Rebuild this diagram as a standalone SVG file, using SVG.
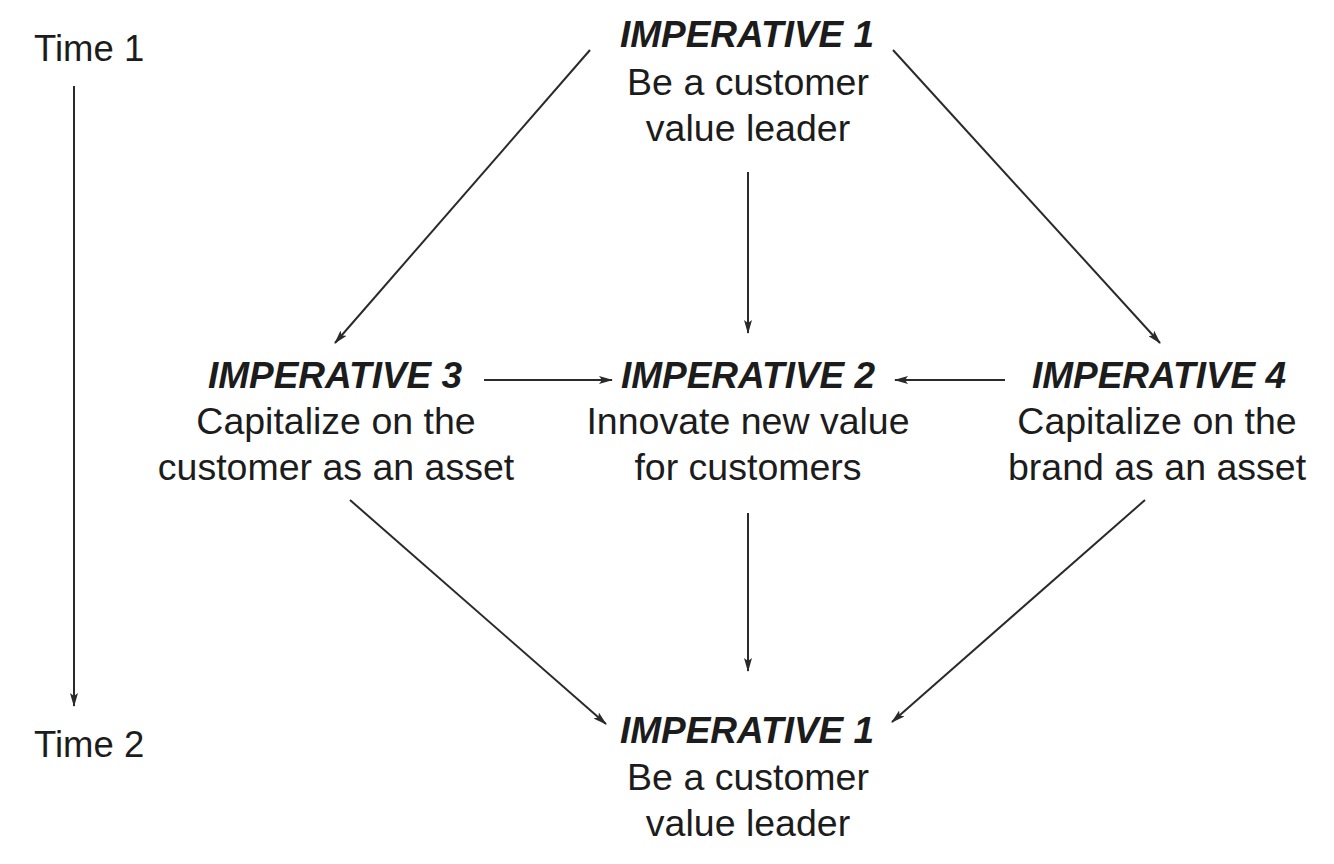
<svg xmlns="http://www.w3.org/2000/svg" width="1334" height="864" viewBox="0 0 1334 864">
<style>
text{font-family:"Liberation Sans",Arial,sans-serif;fill:#1c1c1c;font-size:37.5px;text-anchor:middle}
.h{font-weight:bold;font-style:italic;font-size:37px}
.t{text-anchor:start;font-size:36.5px}
.c{stroke:#2a2a2a;stroke-width:2;fill:none;marker-end:url(#ah)}
</style>
<defs>
<marker id="ah" viewBox="0 0 14 8" refX="13" refY="4" markerWidth="14" markerHeight="8" markerUnits="userSpaceOnUse" orient="auto">
<path d="M0,0 L14,4 L0,8 L3,4 Z" fill="#2a2a2a"/>
</marker>
</defs>
<rect width="1334" height="864" fill="#fff"/>
<g id="time1"><text class="t" x="34" y="61">Time 1</text></g>
<g id="time2"><text class="t" x="34" y="757">Time 2</text></g>
<g id="imp1top">
<text class="h" x="747" y="47">IMPERATIVE 1</text>
<text x="748" y="95">Be a customer</text>
<text x="748" y="141">value leader</text>
</g>
<g id="imp3">
<text class="h" x="335" y="388">IMPERATIVE 3</text>
<text x="336" y="434">Capitalize on the</text>
<text x="336" y="480">customer as an asset</text>
</g>
<g id="imp2">
<text class="h" x="748" y="388">IMPERATIVE 2</text>
<text x="748" y="434">Innovate new value</text>
<text x="748" y="480">for customers</text>
</g>
<g id="imp4">
<text class="h" x="1159" y="388">IMPERATIVE 4</text>
<text x="1157" y="434">Capitalize on the</text>
<text x="1157" y="480">brand as an asset</text>
</g>
<g id="imp1bottom">
<text class="h" x="747" y="743">IMPERATIVE 1</text>
<text x="748" y="790">Be a customer</text>
<text x="748" y="836">value leader</text>
</g>
<g id="connectors">
<line class="c" x1="74" y1="86" x2="74" y2="706"/>
<line class="c" x1="590" y1="50" x2="335" y2="343"/>
<line class="c" x1="748" y1="172" x2="748" y2="333"/>
<line class="c" x1="893" y1="50" x2="1160" y2="343"/>
<line class="c" x1="484" y1="380" x2="612" y2="380"/>
<line class="c" x1="1005" y1="380" x2="895" y2="380"/>
<line class="c" x1="350" y1="500" x2="606" y2="724"/>
<line class="c" x1="748" y1="513" x2="748" y2="671"/>
<line class="c" x1="1145" y1="500" x2="892" y2="722"/>
</g>
</svg>
